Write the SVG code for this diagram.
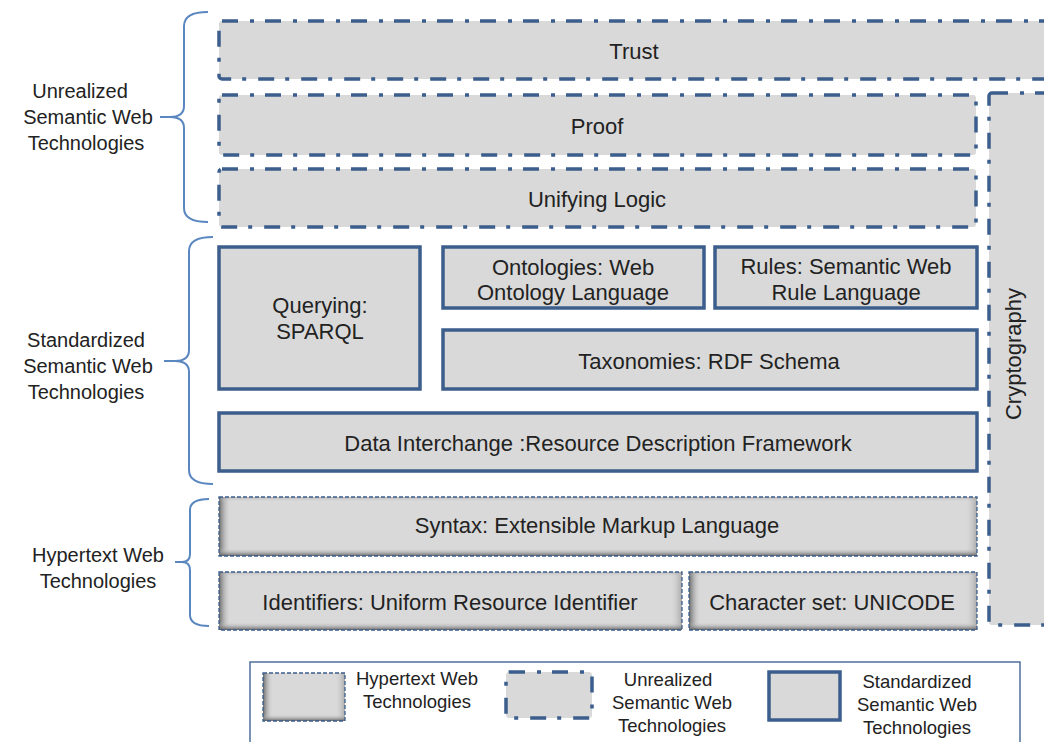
<svg xmlns="http://www.w3.org/2000/svg" width="1044" height="742" viewBox="0 0 1044 742">
<style>
.unr{fill:#d9d9d9;stroke:#3b5e8c;stroke-width:3.5;stroke-dasharray:16 12 4 11;}
.std{fill:#d9d9d9;stroke:#3b5e8c;stroke-width:3.5;}
.hyp{fill:#d9d9d9;stroke:#3b5e8c;stroke-width:1.3;stroke-dasharray:4 2;}
.t{font-family:"Liberation Sans",Arial,sans-serif;font-size:22px;fill:#222;text-anchor:middle;}
.side{font-family:"Liberation Sans",Arial,sans-serif;font-size:20px;fill:#222;text-anchor:middle;}
.leg{font-family:"Liberation Sans",Arial,sans-serif;font-size:18.5px;fill:#222;text-anchor:middle;}
.brace{fill:none;stroke:#5b87c0;stroke-width:2;}
</style>
<defs>
<linearGradient id="gl" x1="0" y1="0" x2="1" y2="0">
<stop offset="0" stop-color="#555" stop-opacity="0.85"/>
<stop offset="1" stop-color="#d9d9d9" stop-opacity="0"/>
</linearGradient>
<linearGradient id="gr" x1="1" y1="0" x2="0" y2="0">
<stop offset="0" stop-color="#777" stop-opacity="0.5"/>
<stop offset="1" stop-color="#d9d9d9" stop-opacity="0"/>
</linearGradient>
<linearGradient id="gb" x1="0" y1="1" x2="0" y2="0">
<stop offset="0" stop-color="#555" stop-opacity="0.9"/>
<stop offset="1" stop-color="#d9d9d9" stop-opacity="0"/>
</linearGradient>
<linearGradient id="gt" x1="0" y1="0" x2="0" y2="1">
<stop offset="0" stop-color="#888" stop-opacity="0.4"/>
<stop offset="1" stop-color="#d9d9d9" stop-opacity="0"/>
</linearGradient>
</defs>
<rect width="1044" height="742" fill="#fff"/>

<g id="braces">
<path class="brace" d="M208,12 Q184,12 184,26 L184,106 Q184,117 170,117 L160,117 M170,117 Q184,117 184,128 L184,208 Q184,222 208,222"/>
<path class="brace" d="M213,237 Q189,237 189,251 L189,350 Q189,361 175,361 L164,361 M175,361 Q189,361 189,372 L189,470 Q189,484 213,484"/>
<path class="brace" d="M209,499 Q190,499 190,510 L190,554 Q190,562 182,562 L175,562 M182,562 Q190,562 190,570 L190,615 Q190,626 209,626"/>
</g>

<g id="side-labels">
<g id="lbl-unrealized">
<text class="side" x="80" y="98">Unrealized</text>
<text class="side" x="88" y="124">Semantic Web</text>
<text class="side" x="86" y="150">Technologies</text>
</g>
<g id="lbl-standardized">
<text class="side" x="86" y="347">Standardized</text>
<text class="side" x="88" y="373">Semantic Web</text>
<text class="side" x="86" y="399">Technologies</text>
</g>
<g id="lbl-hypertext">
<text class="side" x="98" y="562">Hypertext Web</text>
<text class="side" x="98" y="588">Technologies</text>
</g>
</g>

<g id="trust"><rect class="unr" x="219" y="21" width="840" height="58" rx="3"/><text class="t" x="634" y="59">Trust</text></g>
<g id="proof"><rect class="unr" x="219" y="95" width="757" height="60" rx="3"/><text class="t" x="597" y="134">Proof</text></g>
<g id="unifying-logic"><rect class="unr" x="219" y="169" width="757" height="58" rx="3"/><text class="t" x="597" y="207">Unifying Logic</text></g>
<g id="cryptography"><rect class="unr" x="989" y="93" width="80" height="532" rx="3"/><text class="t" transform="translate(1021,354) rotate(-90)">Cryptography</text></g>

<g id="querying"><rect class="std" x="219" y="247" width="201" height="142"/><text class="t" x="320" y="313">Querying:</text><text class="t" x="320" y="339">SPARQL</text></g>
<g id="ontologies"><rect class="std" x="443" y="247" width="261" height="61"/><text class="t" x="573" y="275">Ontologies: Web</text><text class="t" x="573" y="300">Ontology Language</text></g>
<g id="rules"><rect class="std" x="715" y="247" width="262" height="61"/><text class="t" x="846" y="274">Rules: Semantic Web</text><text class="t" x="846" y="300">Rule Language</text></g>
<g id="taxonomies"><rect class="std" x="443" y="330" width="534" height="59"/><text class="t" x="709" y="369">Taxonomies: RDF Schema</text></g>
<g id="data-interchange"><rect class="std" x="219" y="413" width="758" height="58"/><text class="t" x="598" y="451">Data Interchange :Resource Description Framework</text></g>

<g id="syntax">
<rect x="219" y="497" width="758" height="59" fill="#d9d9d9"/>
<rect x="219" y="497" width="12" height="59" fill="url(#gl)"/>
<rect x="965" y="497" width="12" height="59" fill="url(#gr)"/>
<rect x="219" y="497" width="758" height="5" fill="url(#gt)"/>
<rect x="219" y="548" width="758" height="8" fill="url(#gb)"/>
<rect class="hyp" x="219" y="497" width="758" height="59" fill="none" style="fill:none"/>
<text class="t" x="597" y="533">Syntax: Extensible Markup Language</text>
</g>
<g id="identifiers">
<rect x="219" y="572" width="463" height="58" fill="#d9d9d9"/>
<rect x="219" y="572" width="12" height="58" fill="url(#gl)"/>
<rect x="670" y="572" width="12" height="58" fill="url(#gr)"/>
<rect x="219" y="572" width="463" height="5" fill="url(#gt)"/>
<rect x="219" y="622" width="463" height="8" fill="url(#gb)"/>
<rect class="hyp" x="219" y="572" width="463" height="58" style="fill:none"/>
<text class="t" x="450" y="610">Identifiers: Uniform Resource Identifier</text>
</g>
<g id="character-set">
<rect x="689" y="572" width="288" height="58" fill="#d9d9d9"/>
<rect x="689" y="572" width="12" height="58" fill="url(#gl)"/>
<rect x="965" y="572" width="12" height="58" fill="url(#gr)"/>
<rect x="689" y="572" width="288" height="5" fill="url(#gt)"/>
<rect x="689" y="622" width="288" height="8" fill="url(#gb)"/>
<rect class="hyp" x="689" y="572" width="288" height="58" style="fill:none"/>
<text class="t" x="832" y="610">Character set: UNICODE</text>
</g>

<g id="legend">
<rect x="250" y="662" width="770" height="100" fill="#fff" stroke="#4f6f9a" stroke-width="1.5"/>
<g id="legend-hypertext">
<rect x="263" y="673" width="82" height="48" fill="#d9d9d9"/>
<rect x="263" y="673" width="10" height="48" fill="url(#gl)"/>
<rect x="335" y="673" width="10" height="48" fill="url(#gr)"/>
<rect x="263" y="714" width="82" height="7" fill="url(#gb)"/>
<rect class="hyp" x="263" y="673" width="82" height="48" style="fill:none"/>
<text class="leg" x="417" y="685">Hypertext Web</text>
<text class="leg" x="417" y="708">Technologies</text>
</g>
<g id="legend-unrealized">
<rect class="unr" x="506" y="672" width="86" height="46" rx="3"/>
<text class="leg" x="668" y="686">Unrealized</text>
<text class="leg" x="672" y="709">Semantic Web</text>
<text class="leg" x="672" y="732">Technologies</text>
</g>
<g id="legend-standardized">
<rect class="std" x="769" y="672" width="71" height="48"/>
<text class="leg" x="917" y="688">Standardized</text>
<text class="leg" x="917" y="711">Semantic Web</text>
<text class="leg" x="917" y="734">Technologies</text>
</g>
</g>
</svg>
